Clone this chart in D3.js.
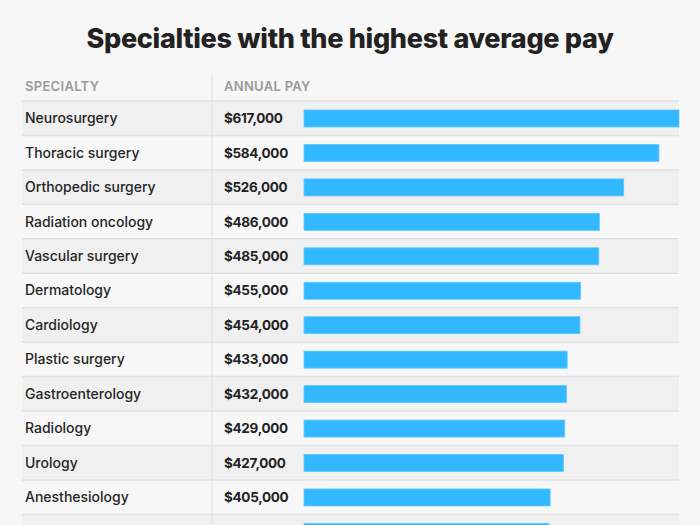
<!DOCTYPE html>
<html>
<head>
<meta charset="utf-8">
<script src="https://cdn.jsdelivr.net/npm/d3@7"></script>
<style>
  html, body { margin: 0; padding: 0; background: #f7f7f7; }
  svg { display: block; font-family: Inter, Roboto, "Noto Sans", sans-serif; }
</style>
</head>
<body>
<svg id="chart" width="700" height="525"></svg>
<script>
const title = "Specialties with the highest average pay";
const headers = ["SPECIALTY", "ANNUAL PAY"];
const specialties = ["Neurosurgery", "Thoracic surgery", "Orthopedic surgery", "Radiation oncology",
  "Vascular surgery", "Dermatology", "Cardiology", "Plastic surgery", "Gastroenterology",
  "Radiology", "Urology", "Anesthesiology", "Otolaryngology"];
const pay = [617000, 584000, 526000, 486000, 485000, 455000, 454000, 433000, 432000,
  429000, 427000, 405000, 403000];

const W = 700, H = 525;
const svg = d3.select("#chart");
const left = 22, right = 679, divider = 212;
const headerTop = 73, firstRowTop = 101, rowH = 34.45;
const barX0 = 304, barX1 = 679;

const y = d3.scaleBand().domain(specialties)
  .range([firstRowTop, firstRowTop + rowH * specialties.length]).paddingInner(0).paddingOuter(0);
const x = d3.scaleLinear().domain([0, d3.max(pay)]).range([barX0, barX1]);
const fmt = v => "$" + d3.format(",")(v);

svg.append("rect").attr("width", W).attr("height", H).attr("fill", "#f7f7f7");

svg.append("text").attr("x", W / 2).attr("y", 48).attr("text-anchor", "middle")
  .attr("font-size", 27).attr("font-weight", 800).attr("fill", "#222")
  .attr("letter-spacing", -0.3).text(title);

// row backgrounds
const rows = svg.append("g").selectAll("g").data(specialties).join("g");
rows.append("rect").attr("x", left).attr("width", right - left)
  .attr("y", d => y(d)).attr("height", y.bandwidth())
  .attr("fill", (d, i) => i % 2 === 0 ? "#f0f0f0" : "#f7f7f7");

// separators
const lines = [firstRowTop].concat(specialties.map(d => y(d) + y.bandwidth()));
svg.append("g").selectAll("line").data(lines).join("line")
  .attr("x1", left).attr("x2", right).attr("y1", d => d).attr("y2", d => d)
  .attr("stroke", "#e1e1e1").attr("stroke-width", 1.5);

svg.append("line").attr("x1", divider).attr("x2", divider)
  .attr("y1", headerTop).attr("y2", H).attr("stroke", "#e1e1e1").attr("stroke-width", 1.2);

// headers
svg.append("text").attr("x", 25).attr("y", 91).attr("font-size", 13).attr("font-weight", 600)
  .attr("letter-spacing", 0.3).attr("fill", "#9a9a9a").text(headers[0]);
svg.append("text").attr("x", 224).attr("y", 91).attr("font-size", 13).attr("font-weight", 600)
  .attr("letter-spacing", 0.3).attr("fill", "#9a9a9a").text(headers[1]);

// labels (only rows whose text lies inside the picture)
const labelRows = rows.filter(d => y(d) + y.bandwidth() / 2 + 5 < H);
labelRows.append("text").attr("x", 25).attr("y", d => y(d) + y.bandwidth() / 2 + 5)
  .attr("font-size", 14).attr("font-weight", 500).attr("fill", "#262626").text(d => d);
labelRows.append("text").attr("x", 224).attr("y", d => y(d) + y.bandwidth() / 2 + 5)
  .attr("font-size", 13.5).attr("font-weight", 700).attr("fill", "#222")
  .attr("letter-spacing", -0.3)
  .text(d => fmt(pay[specialties.indexOf(d)]));

// bars
rows.append("rect").attr("x", barX0).attr("y", d => y(d) + 9).attr("height", 17)
  .attr("width", (d, i) => x(pay[i]) - barX0)
  .attr("fill", "#31b8ff").attr("stroke", "#5fc9ff").attr("stroke-width", 0.8);
</script>
</body>
</html>
